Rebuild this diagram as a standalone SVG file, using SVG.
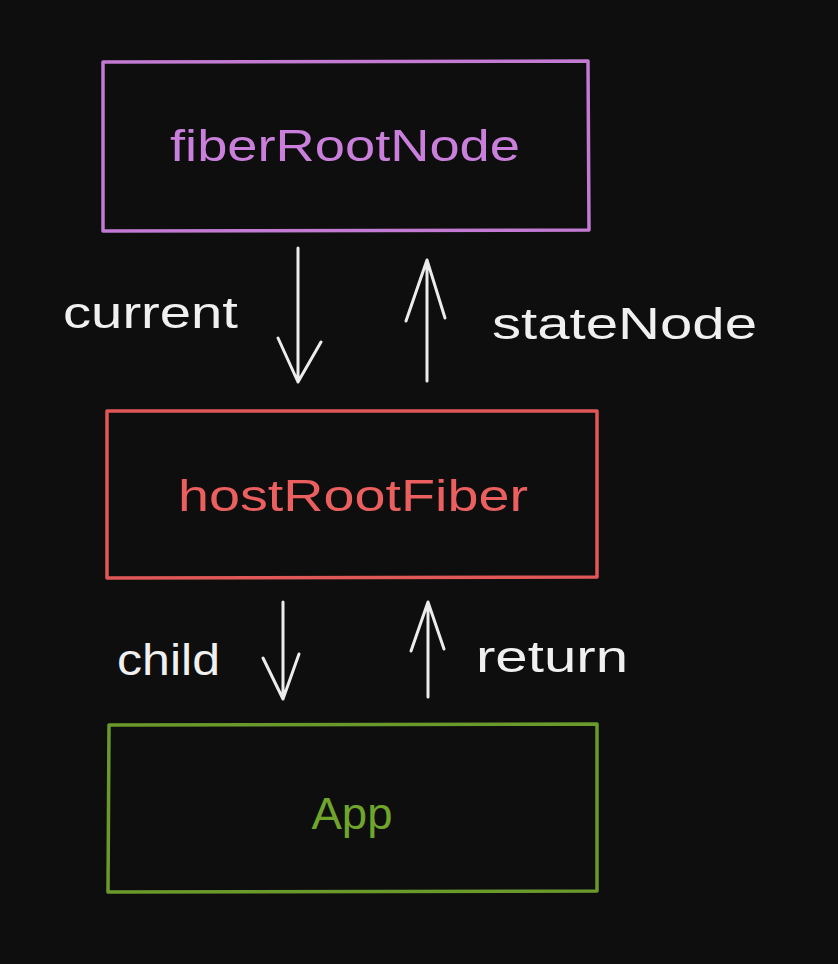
<svg xmlns="http://www.w3.org/2000/svg" width="838" height="964" viewBox="0 0 838 964">
<defs>
<style>
.box{fill:none;stroke-width:3.5;stroke-linejoin:round}
.lbl{font-family:"Liberation Sans","DejaVu Sans",sans-serif;font-size:44px;}
.arr{fill:none;stroke:#ececec;stroke-width:3;stroke-linecap:round;stroke-linejoin:round}
.edge{fill:#f0f0f0}
</style>
</defs>
<rect width="838" height="964" fill="#0e0e0e"/>
<g id="fiberRootNode">
<path class="box" stroke="#c27ad3" d="M103 62 L588 61 L589 230 L103 231 Z"/>
<text class="lbl" x="345" y="161" text-anchor="middle" fill="#c97fdb" textLength="350" lengthAdjust="spacingAndGlyphs">fiberRootNode</text>
</g>
<g id="hostRootFiber">
<path class="box" stroke="#e05858" d="M107 411 L597 411 L597 577 L107 578 Z"/>
<text class="lbl" x="353" y="511" text-anchor="middle" fill="#ec5f5f" textLength="350" lengthAdjust="spacingAndGlyphs">hostRootFiber</text>
</g>
<g id="App">
<path class="box" stroke="#6b9a2c" d="M109 725 L597 724 L597 891 L108 892 Z"/>
<text class="lbl" x="352" y="829" text-anchor="middle" fill="#6fa52b" textLength="81" lengthAdjust="spacingAndGlyphs">App</text>
</g>
<g id="connectors">
<g id="current">
<path class="arr" d="M298 248 L298 382 M278 338 L298 382 L321 342"/>
<text class="lbl edge" x="63" y="328" textLength="175" lengthAdjust="spacingAndGlyphs">current</text>
</g>
<g id="stateNode">
<path class="arr" d="M427 381 L427 260 M406 321 L427 260 L445 318"/>
<text class="lbl edge" x="492" y="339" textLength="265" lengthAdjust="spacingAndGlyphs">stateNode</text>
</g>
<g id="child">
<path class="arr" d="M283 602 L283 699 M263 658 L283 699 L299 654"/>
<text class="lbl edge" x="117" y="675" textLength="103" lengthAdjust="spacingAndGlyphs">child</text>
</g>
<g id="return">
<path class="arr" d="M428 697 L428 602 M411 651 L428 602 L444 649"/>
<text class="lbl edge" x="476" y="672" textLength="152" lengthAdjust="spacingAndGlyphs">return</text>
</g>
</g>
</svg>
